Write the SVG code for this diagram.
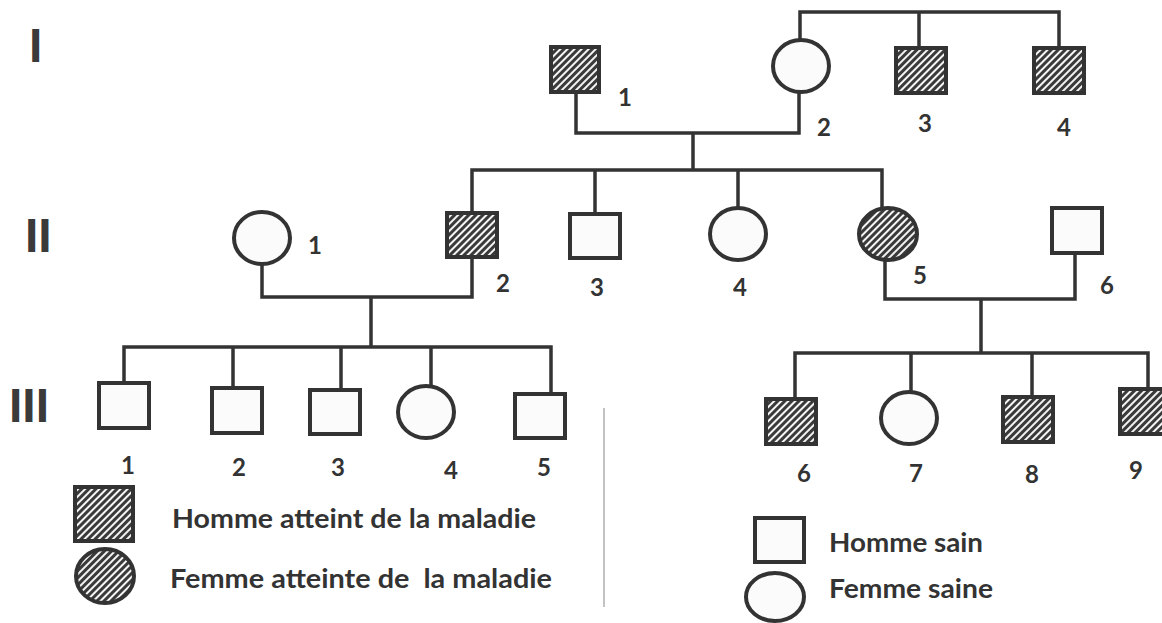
<svg xmlns="http://www.w3.org/2000/svg" width="1162" height="623" viewBox="0 0 1162 623">
<defs>
<pattern id="hatch" patternUnits="userSpaceOnUse" width="5" height="5" patternTransform="rotate(45)">
<rect width="5" height="5" fill="#3a3a3a"/>
<rect x="0" y="0" width="2" height="5" fill="#f4f4f4"/>
</pattern>
<style>
.sq{fill:#fbfbfb;stroke:#333;stroke-width:4}
.ci{fill:#fbfbfb;stroke:#333;stroke-width:4}
.aff{fill:url(#hatch)}
.ln{fill:none;stroke:#333;stroke-width:3.5;stroke-linejoin:miter}
.num{font-family:Lato,"Open Sans",sans-serif;font-weight:bold;font-size:24px;fill:#333;text-anchor:middle}
.rom{font-family:"Liberation Sans",Arial,sans-serif;font-weight:bold;font-size:48px;fill:#3a3a3a}
.leg{font-family:Lato,"Open Sans",sans-serif;font-weight:bold;font-size:27px;fill:#333;white-space:pre}
</style>
</defs>
<rect width="1162" height="623" fill="#ffffff"/>

<g id="generation-labels">
<text class="rom" x="29" y="62">I</text>
<text class="rom" x="25" y="252">II</text>
<text class="rom" x="9" y="422">III</text>
</g>

<g id="connectors">
<path class="ln" d="M800,40 V12 H1059 V48 M919,12 V48"/>
<path class="ln" d="M576,92 V133 H799 V92 M693,133 V170"/>
<path class="ln" d="M472,213 V170 H882 V208 M595,170 V214 M738,170 V208"/>
<path class="ln" d="M262,264 V297 H472 V257 M371,297 V347"/>
<path class="ln" d="M885,260 V299 H1075 V253 M981,299 V353"/>
<path class="ln" d="M124,383 V347 H551 V394 M233,347 V388 M341,347 V390 M431,347 V386"/>
<path class="ln" d="M795,399 V353 H1148 V389 M911,353 V392 M1032,353 V397"/>
<line x1="604" y1="408" x2="604" y2="607" stroke="#9a9a9a" stroke-width="1.2"/>
</g>

<g id="I-1"><rect class="sq aff" x="551" y="47" width="48" height="45"/><text class="num" x="625" y="106">1</text></g>
<g id="I-2"><ellipse class="ci" cx="801" cy="66" rx="28" ry="26"/><text class="num" x="824" y="136">2</text></g>
<g id="I-3"><rect class="sq aff" x="896" y="48" width="50" height="45"/><text class="num" x="925" y="132">3</text></g>
<g id="I-4"><rect class="sq aff" x="1034" y="48" width="50" height="45"/><text class="num" x="1064" y="136">4</text></g>

<g id="II-1"><ellipse class="ci" cx="262" cy="238" rx="28" ry="26"/><text class="num" x="315" y="254">1</text></g>
<g id="II-2"><rect class="sq aff" x="447" y="213" width="50" height="44"/><text class="num" x="503" y="292">2</text></g>
<g id="II-3"><rect class="sq" x="570" y="214" width="50" height="44"/><text class="num" x="597" y="296">3</text></g>
<g id="II-4"><ellipse class="ci" cx="738" cy="234" rx="28" ry="26"/><text class="num" x="740" y="296">4</text></g>
<g id="II-5"><ellipse class="ci aff" cx="888" cy="234" rx="29" ry="26"/><text class="num" x="920" y="284">5</text></g>
<g id="II-6"><rect class="sq" x="1052" y="208" width="50" height="45"/><text class="num" x="1107" y="294">6</text></g>

<g id="III-1"><rect class="sq" x="99" y="383" width="50" height="45"/><text class="num" x="128" y="474">1</text></g>
<g id="III-2"><rect class="sq" x="212" y="388" width="50" height="45"/><text class="num" x="239" y="476">2</text></g>
<g id="III-3"><rect class="sq" x="310" y="390" width="50" height="44"/><text class="num" x="338" y="476">3</text></g>
<g id="III-4"><ellipse class="ci" cx="426" cy="412" rx="28" ry="26"/><text class="num" x="451" y="479">4</text></g>
<g id="III-5"><rect class="sq" x="515" y="394" width="50" height="44"/><text class="num" x="544" y="476">5</text></g>
<g id="III-6"><rect class="sq aff" x="766" y="399" width="50" height="45"/><text class="num" x="804" y="482">6</text></g>
<g id="III-7"><ellipse class="ci" cx="909" cy="418" rx="28" ry="26"/><text class="num" x="916" y="482">7</text></g>
<g id="III-8"><rect class="sq aff" x="1003" y="397" width="50" height="45"/><text class="num" x="1032" y="483">8</text></g>
<g id="III-9"><rect class="sq aff" x="1120" y="389" width="50" height="45"/><text class="num" x="1136" y="479">9</text></g>

<g id="legend-affected-male"><rect class="sq aff" x="75" y="487" width="58" height="54"/><text class="leg" x="172" y="528" textLength="364" lengthAdjust="spacingAndGlyphs">Homme atteint de la maladie</text></g>
<g id="legend-affected-female"><ellipse class="ci aff" cx="105" cy="576" rx="29" ry="27"/><text class="leg" x="170" y="588" textLength="382" lengthAdjust="spacingAndGlyphs">Femme atteinte de  la maladie</text></g>
<g id="legend-healthy-male"><rect class="sq" x="755" y="518" width="49" height="44"/><text class="leg" x="829" y="552" textLength="154" lengthAdjust="spacingAndGlyphs">Homme sain</text></g>
<g id="legend-healthy-female"><ellipse class="ci" cx="775" cy="597" rx="29" ry="24"/><text class="leg" x="829" y="598" textLength="164" lengthAdjust="spacingAndGlyphs">Femme saine</text></g>
</svg>
